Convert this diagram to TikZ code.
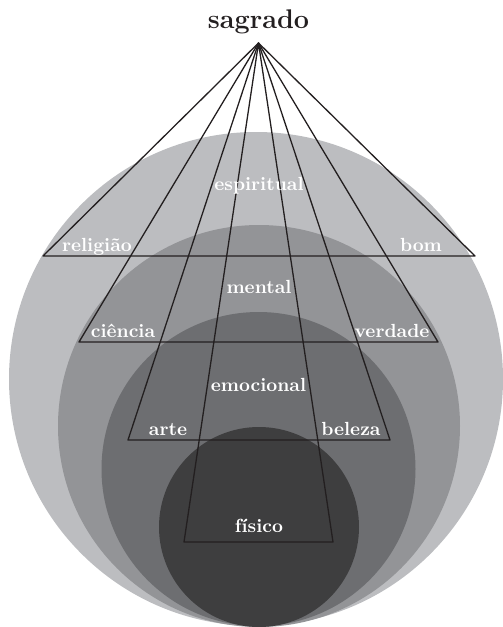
\documentclass[tikz,border=0pt]{standalone}
\usetikzlibrary{positioning}
\definecolor{ink}{HTML}{231F20}
\definecolor{ringone}{HTML}{BCBDC0}
\definecolor{ringtwo}{HTML}{939497}
\definecolor{ringthree}{HTML}{6D6E71}
\definecolor{ringfour}{HTML}{3E3E3F}
\tikzset{
  edge/.style={draw=ink,line width=0.65pt,line join=round},
  lbl/.style={text=white,font=\fontsize{9.5}{11}\selectfont\bfseries,inner sep=0pt,anchor=base},
  toplbl/.style={text=ink,font=\fontsize{13.5}{15}\selectfont\bfseries,inner sep=0pt,anchor=base}}

\begin{document}
\begin{tikzpicture}[x=0.5pt,y=-0.5pt]
  \useasboundingbox (0,0) rectangle (503,627);
  % nested spheres
  \begin{scope}
    \clip (0,0) rectangle (503,627);
    \fill[ringone] (256,379) circle[radius=247];
    \fill[ringtwo] (259,426) circle[radius=201];
    \fill[ringthree] (258.5,469) circle[radius=157];
    \fill[ringfour] (259,527) circle[radius=100];
  \end{scope}
  % pyramid from the apex
  \coordinate (apex) at (258.5,43);
  \foreach \n/\y/\l/\r in {a/256/43/475,b/342/79/438,c/440/128/390,d/542/184/333}{
    \coordinate (\n l) at (\l,\y);
    \coordinate (\n r) at (\r,\y);
    \draw[edge] (\n l) -- (apex) -- (\n r) -- cycle;
  }
  % labels
  \node[toplbl] (sagrado) at (258.5,28) {sagrado};
  \node[lbl] (espiritual) at (259,190) {espiritual};
  \node[lbl] (religiao) at (97,251) {religião};
  \node[lbl] (bom) at (421,251) {bom};
  \node[lbl] (mental) at (259,293) {mental};
  \node[lbl] (ciencia) at (123,337) {ciência};
  \node[lbl] (verdade) at (392,337) {verdade};
  \node[lbl] (emocional) at (258.5,391) {emocional};
  \node[lbl] (arte) at (168,435) {arte};
  \node[lbl] (beleza) at (351,435) {beleza};
  \node[lbl] (fisico) at (259,532) {físico};
\end{tikzpicture}
\end{document}
